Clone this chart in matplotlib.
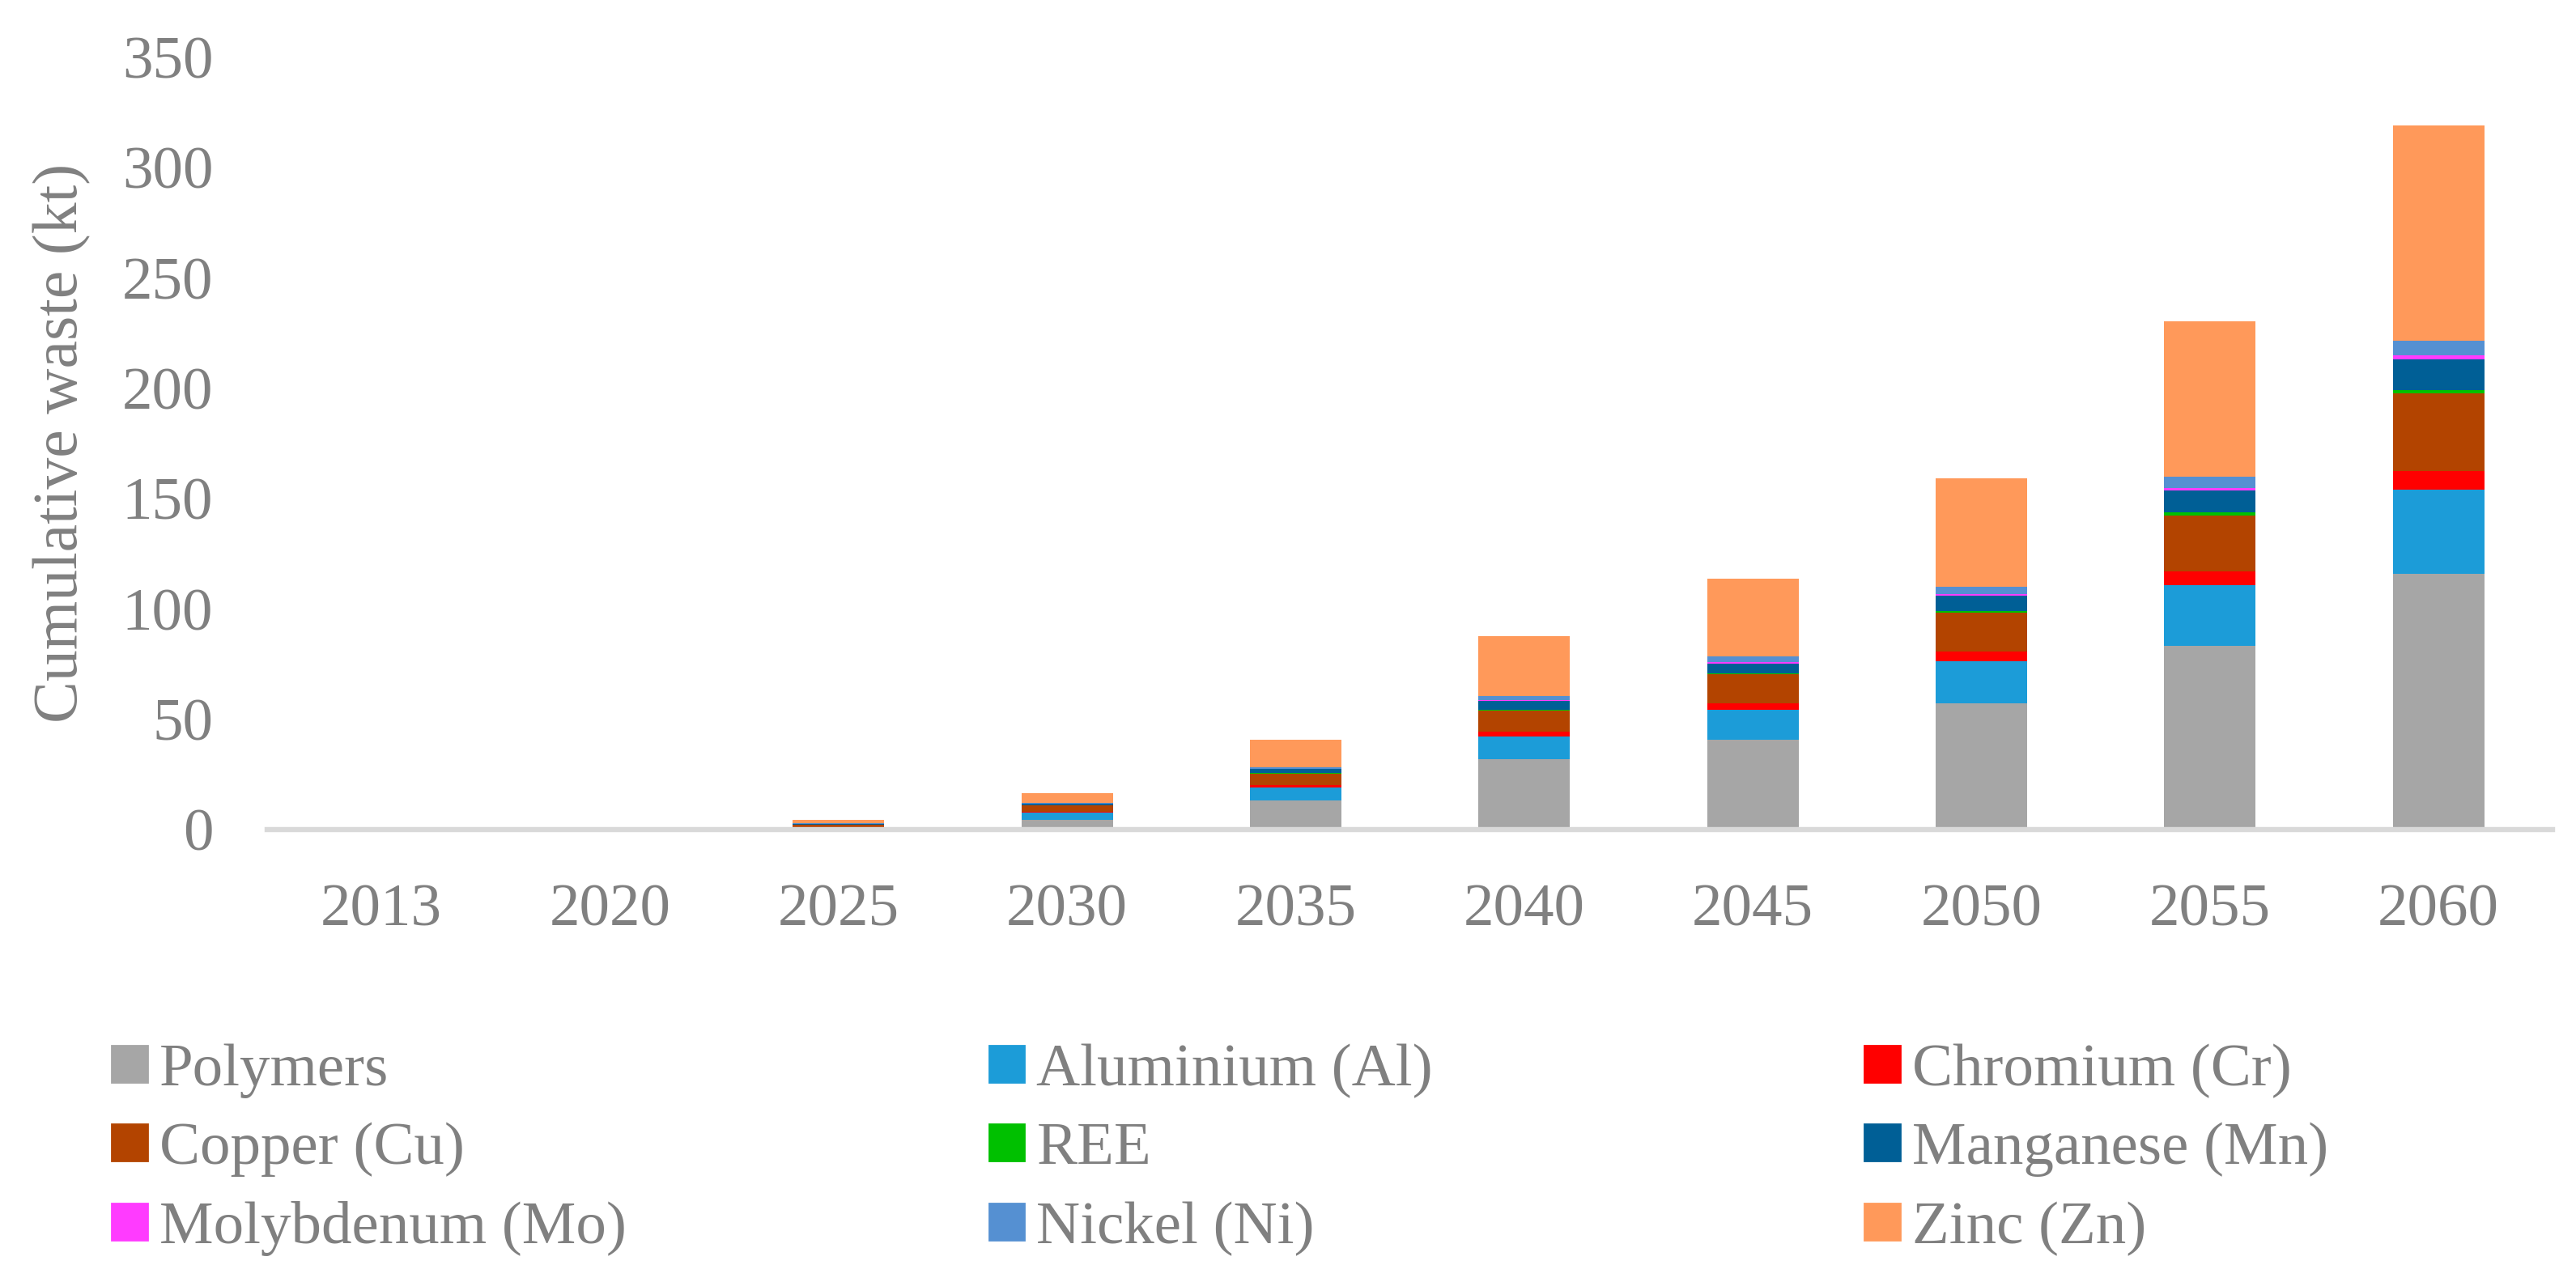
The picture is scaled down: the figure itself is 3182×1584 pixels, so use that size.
import matplotlib.pyplot as plt
import numpy as np
from matplotlib.patches import Patch

# cumulative waste (kt)
years = ['2013', '2020', '2025', '2030', '2035', '2040', '2045', '2050', '2055', '2060']
materials = ['Polymers', 'Aluminium (Al)', 'Chromium (Cr)', 'Copper (Cu)', 'REE',
             'Manganese (Mn)', 'Molybdenum (Mo)', 'Nickel (Ni)', 'Zinc (Zn)']

polymers = [0, 0, 0.4, 4.4, 13.2, 31.9, 40.7, 57.2, 83.3, 116.0]
aluminium = [0, 0, 0.7, 3.3, 5.9, 10.4, 13.6, 19.1, 27.5, 38.0]
chromium = [0, 0, 0.1, 0.4, 1.1, 2.2, 2.9, 4.4, 6.2, 8.5]
copper = [0, 0, 0.9, 2.7, 5.2, 9.5, 13.2, 17.6, 25.3, 35.2]
ree = [0, 0, 0.05, 0.1, 0.3, 0.4, 0.4, 0.7, 1.5, 1.5]
manganese = [0, 0, 0.45, 0.7, 1.6, 3.9, 4.5, 7.0, 9.9, 13.8]
molybdenum = [0, 0, 0.02, 0.1, 0.3, 0.4, 0.6, 0.8, 1.1, 2.0]
nickel = [0, 0, 0.1, 0.2, 0.6, 1.8, 2.6, 3.2, 5.2, 6.6]
zinc = [0, 0, 1.7, 4.6, 12.5, 27.2, 35.2, 49.2, 70.4, 97.4]

series = [polymers, aluminium, chromium, copper, ree, manganese, molybdenum, nickel, zinc]
colors = ['#a6a6a6', '#1c9cd8', '#ff0000', '#b34400', '#00c000',
          '#005f96', '#ff3bff', '#5590d2', '#ff995a']

grey = '#808080'
plt.rcParams['font.family'] = ['Liberation Serif', 'DejaVu Serif']
fs = 27

fig = plt.figure(figsize=(15.91, 7.92), dpi=200)
ax = fig.add_axes([0.1037, 0.353, 0.8873, 0.6022])

x = np.arange(len(years))
bottom = np.zeros(len(years))
for vals, c, name in zip(series, colors, materials):
    ax.bar(x, vals, 0.4, bottom=bottom, color=c, label=name, linewidth=0)
    bottom += np.array(vals)

ax.set_xlim(-0.5, len(years) - 0.5)
ax.set_ylim(0, 350)
ax.set_yticks(np.arange(0, 351, 50))
ax.set_xticks(x)
ax.set_xticklabels(years)
ax.tick_params(axis='both', length=0, labelsize=fs, labelcolor=grey)
ax.tick_params(axis='x', pad=24)
ax.tick_params(axis='y', pad=24)
for s in ['top', 'right', 'left']:
    ax.spines[s].set_visible(False)
ax.spines['bottom'].set_color('#d9d9d9')
ax.spines['bottom'].set_linewidth(2.3)
ax.set_ylabel('Cumulative waste (kt)', fontsize=28, color=grey, labelpad=14)

# legend: three columns, row-wise order as in the original
handles = [Patch(color=c, label=m) for c, m in zip(colors, materials)]
col_x = [0.0434, 0.384, 0.7238]
for i in range(3):
    fig.legend(handles=[handles[i], handles[i + 3], handles[i + 6]],
               loc='upper left', bbox_to_anchor=(col_x[i], 0.186), frameon=False,
               fontsize=fs, labelcolor=grey, handlelength=0.58, handleheight=0.55,
               handletextpad=0.2, labelspacing=0.4, borderpad=0, borderaxespad=0)

plt.savefig('out.png')
